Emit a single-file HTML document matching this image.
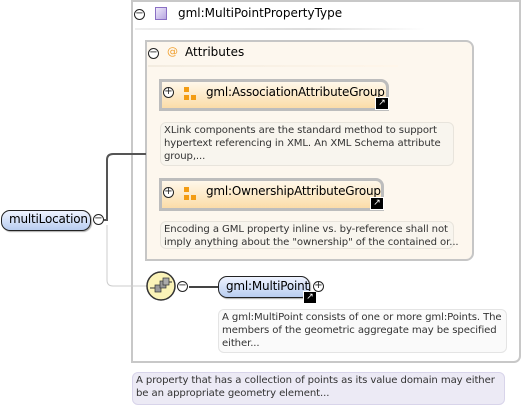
<!DOCTYPE html>
<html><head><meta charset="utf-8"><style>
body{margin:0;width:523px;height:408px;background:#fff;position:relative;overflow:hidden;font-family:"DejaVu Sans","Liberation Sans",sans-serif;}
.a{position:absolute;box-sizing:border-box;}
.t{font-size:12px;color:#000;white-space:nowrap;}
.d{font-size:10.1px;color:#333;line-height:13px;padding:1px 0 0 3px;white-space:nowrap;border:1px solid #e8e4dc;border-radius:6px;background:#f8f5ee;letter-spacing:-0.1px;}
.c{width:11px;height:11px;border:1px solid #222;border-radius:50%;background:#fff;font-size:10px;line-height:8px;text-align:center;color:#222;}
.grp{background:linear-gradient(#fff8ea,#fbdca8);border:3px solid #bdbdbd;border-radius:0 8px 0 0;}
.sq{position:absolute;background:#f39c12;}
.ext{position:absolute;width:12px;height:11px;background:#000;border:1px solid #fff;color:#fff;font-size:9px;line-height:10px;text-align:center;}
</style></head><body>
<div class="a" style="left:131px;top:0;width:390px;height:363px;border:2px solid #c8c8c8;border-radius:0 0 7px 0;"></div>
<div class="a c" style="left:134px;top:9px;">−</div>
<div class="a" style="left:155px;top:7px;width:12px;height:13px;border:1px solid #8a6fc4;background:linear-gradient(135deg,#eee8fb,#b7a6e0);"></div>
<div class="a t" style="left:178px;top:6px;">gml:MultiPointPropertyType</div>
<div class="a" style="left:135px;top:28px;width:290px;height:2px;background:linear-gradient(90deg,#eee,#ddd 60%,#fff);"></div>

<div class="a" style="left:145px;top:40px;width:329px;height:221px;border:2px solid #c6c6c6;border-radius:0 8px 8px 0;background:#fdf7ee;"></div>
<div class="a c" style="left:148px;top:48px;">−</div>
<div class="a" style="left:167px;top:45px;color:#f0a030;font-size:11px;">@</div>
<div class="a t" style="left:185px;top:45px;">Attributes</div>
<div class="a" style="left:148px;top:65px;width:250px;height:2px;background:linear-gradient(90deg,#f3ece0,#fff6ea);"></div>

<div class="a grp" style="left:159px;top:79px;width:230px;height:32px;"></div>
<div class="a c" style="left:163px;top:87px;">+</div>
<div class="sq" style="left:184px;top:87px;width:5px;height:5px;"></div>
<div class="sq" style="left:184px;top:95px;width:5px;height:5px;"></div>
<div class="sq" style="left:191px;top:95px;width:5px;height:5px;"></div>
<div class="a t" style="left:206px;top:85px;letter-spacing:-0.2px;">gml:AssociationAttributeGroup</div>
<div class="ext" style="left:375px;top:97px;">↗</div>
<div class="a d" style="left:160px;top:122px;width:294px;height:44px;">XLink components are the standard method to support<br>hypertext referencing in XML. An XML Schema attribute<br>group,...</div>

<div class="a grp" style="left:159px;top:178px;width:225px;height:33px;"></div>
<div class="a c" style="left:163px;top:187px;">+</div>
<div class="sq" style="left:184px;top:187px;width:5px;height:5px;"></div>
<div class="sq" style="left:184px;top:195px;width:5px;height:5px;"></div>
<div class="sq" style="left:191px;top:195px;width:5px;height:5px;"></div>
<div class="a t" style="left:206px;top:184px;letter-spacing:-0.2px;">gml:OwnershipAttributeGroup</div>
<div class="ext" style="left:370px;top:197px;">↗</div>
<div class="a d" style="left:160px;top:221px;width:294px;height:28px;">Encoding a GML property inline vs. by-reference shall not<br>imply anything about the "ownership" of the contained or...</div>

<svg class="a" style="left:0;top:0" width="523" height="408">
<path d="M104 220 H107 V160 Q107 154 113 154 H146" fill="none" stroke="#555" stroke-width="2"/>
<path d="M107 225 V280 Q107 286 113 286 H147" fill="none" stroke="#ccc" stroke-width="1"/>
<path d="M189 287 H218" stroke="#444" stroke-width="2"/>
<circle cx="161" cy="286" r="14" fill="#fbf3b8" stroke="#333" stroke-width="1.5"/>
<rect x="155" y="285" width="6" height="7" fill="#999" stroke="#333" stroke-width="0.7"/>
<rect x="160" y="281" width="6" height="7" fill="#999" stroke="#333" stroke-width="0.7"/>
<rect x="163" y="278" width="6" height="7" fill="#aaa" stroke="#333" stroke-width="0.7"/>
<path d="M150 288 H155 M169 282 H172" stroke="#333"/>
</svg>
<div class="a c" style="left:177px;top:281px;">−</div>
<div class="a" style="left:1px;top:210px;width:90px;height:21px;border:1.5px solid #222;border-radius:9px;background:linear-gradient(#eef3ff,#b9cdf0);box-shadow:1px 1px 1px #aaa;"></div>
<div class="a t" style="left:9px;top:212px;letter-spacing:-0.2px;">multiLocation</div>
<div class="a c" style="left:93px;top:214px;">−</div>

<div class="a" style="left:218px;top:276px;width:92px;height:22px;border:1.5px solid #222;border-radius:9px;background:linear-gradient(#eef3ff,#b9cdf0);box-shadow:1px 1px 1px #aaa;"></div>
<div class="a t" style="left:226px;top:279px;letter-spacing:-0.2px;">gml:MultiPoint</div>
<div class="ext" style="left:303px;top:291px;">↗</div>
<div class="a c" style="left:313px;top:281px;">+</div>
<div class="a d" style="left:218px;top:309px;width:289px;height:44px;background:#fafafa;border-color:#e4e4e4;">A gml:MultiPoint consists of one or more gml:Points. The<br>members of the geometric aggregate may be specified<br>either...</div>

<div class="a d" style="left:132px;top:372px;width:373px;height:33px;background:#eceaf5;border-color:#d8d4ea;">A property that has a collection of points as its value domain may either<br>be an appropriate geometry element...</div>
</body></html>
